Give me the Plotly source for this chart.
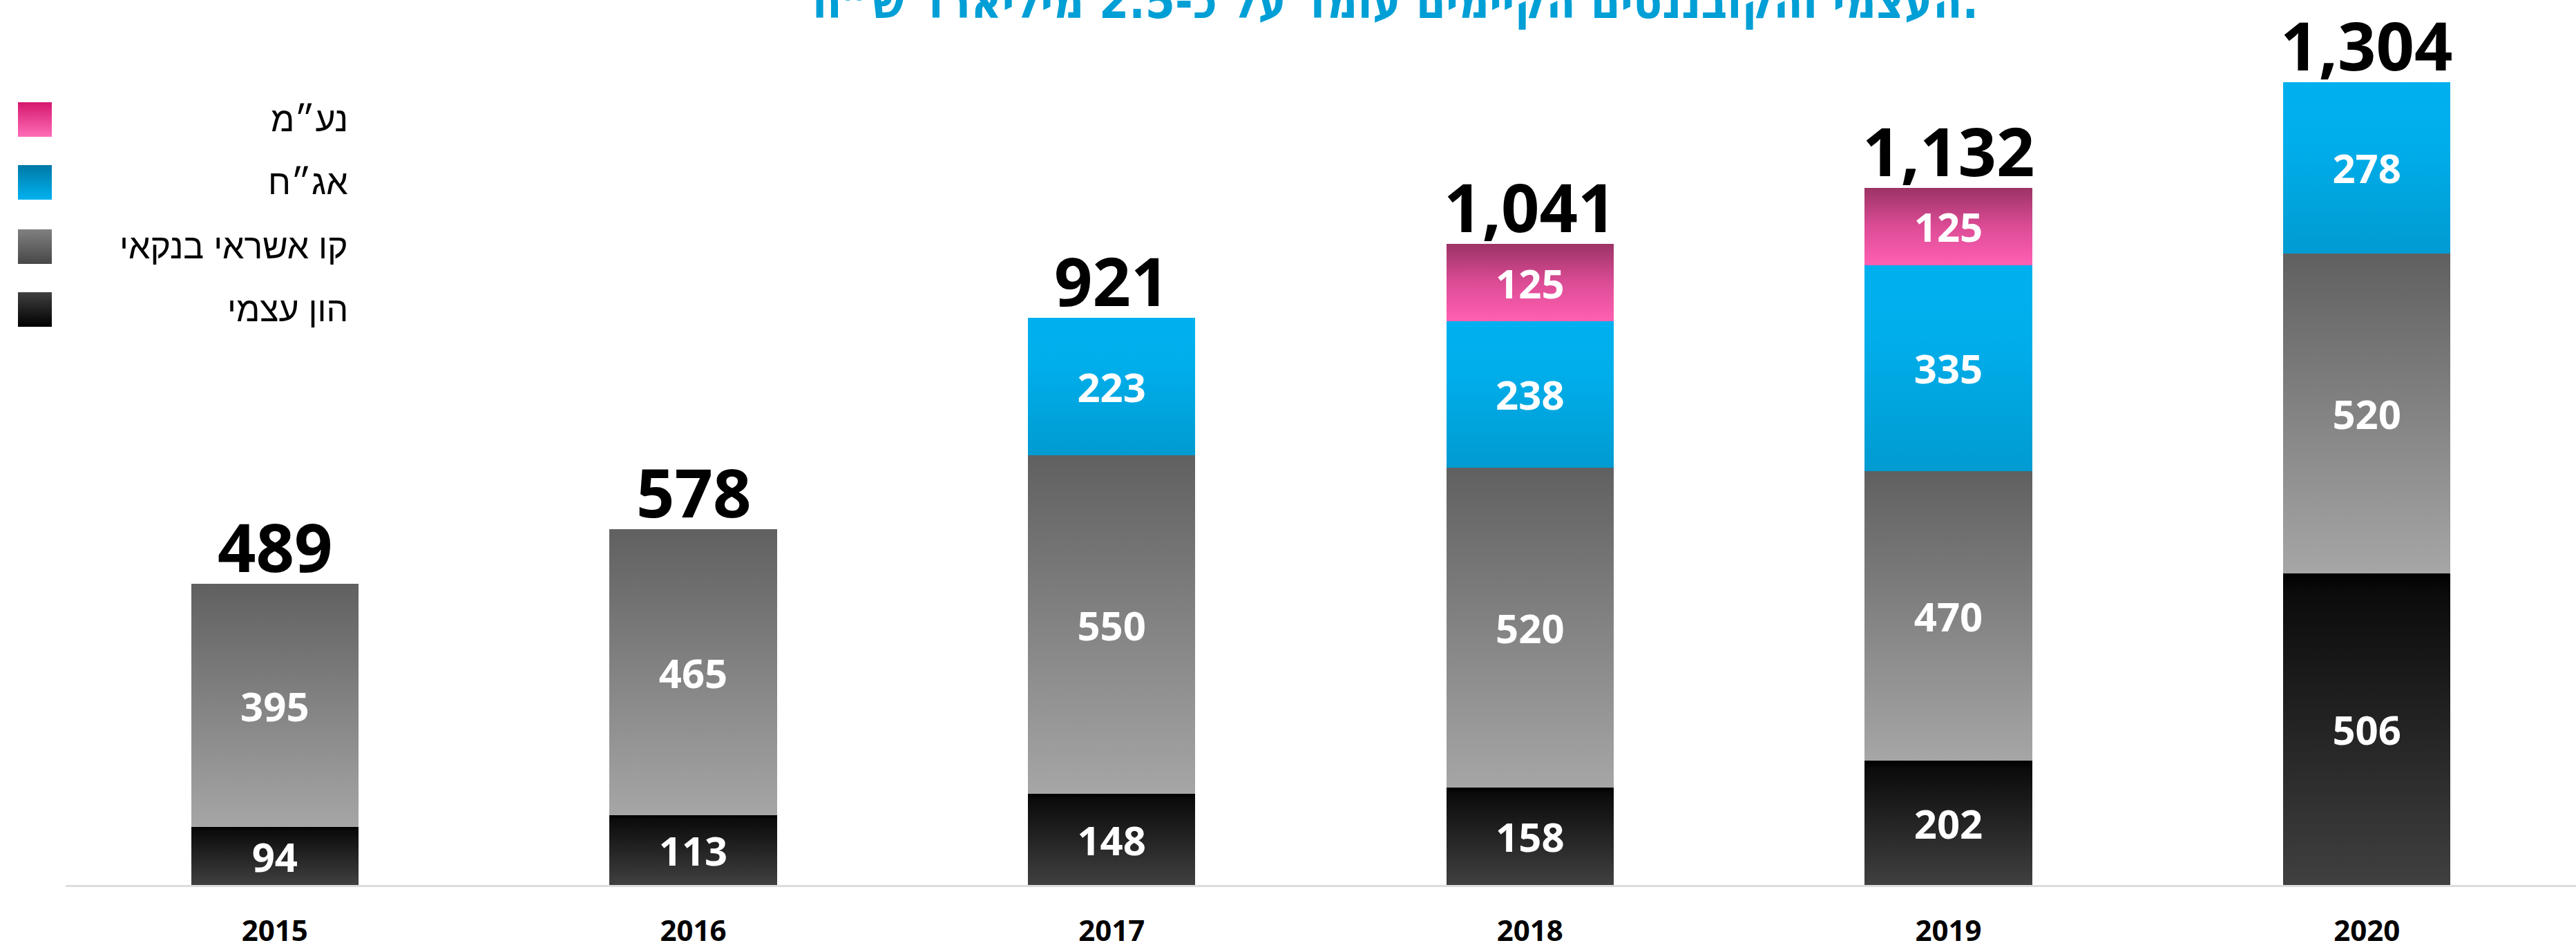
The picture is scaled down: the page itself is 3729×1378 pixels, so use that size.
import plotly.graph_objects as go

# ---- data ----
years = ["2015", "2016", "2017", "2018", "2019", "2020"]
equity = [94, 113, 148, 158, 202, 506]          # הון עצמי
credit = [395, 465, 550, 520, 470, 520]         # קו אשראי בנקאי
bonds = [None, None, 223, 238, 335, 278]        # אג"ח
notes = [None, None, None, 125, 125, None]      # נע"מ
totals = [489, 578, 921, 1041, 1132, 1304]

series_names = ["הון עצמי", "קו אשראי בנקאי", "אג״ח", "נע״מ"]
title_text = "העצמי והקובננטים הקיימים עומד על כ-2.5 מיליארד ש״ח."

# ---- styling ----
W, H = 3729, 1378
ML, MR, MT, MB = 95, 0, 40, 97
bar_colors = ["#262626", "#858585", "#00A8E4", "#D9498F"]
legend_colors = ["#222222", "#666666", "#0096CC", "#EC4C96"]
num_font = "Open Sans"

fig = go.Figure()
for vals, name, col in zip([equity, credit, bonds, notes], series_names, bar_colors):
    fig.add_trace(go.Bar(
        x=years, y=vals, name=name,
        marker=dict(color=col, line=dict(width=0)),
        width=0.4,
        texttemplate="%{y}", textposition="inside", insidetextanchor="middle",
        textangle=0, constraintext="none",
        textfont=dict(family=num_font, size=58, color="white", weight="bold"),
        showlegend=False, hoverinfo="skip",
    ))

# totals above each bar (category index positions on the x axis)
for i, tot in enumerate(totals):
    fig.add_annotation(
        x=i, y=tot, xref="x", yref="y", text=f"{tot:,}",
        xanchor="center", yanchor="bottom", yshift=-13, showarrow=False,
        font=dict(family=num_font, size=97, color="black", weight="bold"),
    )

plot_h = H - MT - MB
px_per_unit = 1162 / 1304
ymax = plot_h / px_per_unit

fig.update_layout(
    width=W, height=H,
    margin=dict(l=ML, r=MR, t=MT, b=MB, pad=0, autoexpand=False),
    barmode="stack", bargap=0.6,
    plot_bgcolor="white", paper_bgcolor="white",
    xaxis=dict(type="category", range=[-0.5, 5.5], showgrid=False, zeroline=False,
               automargin=False, showline=True, linecolor="#DDDDDD", linewidth=3,
               ticks="", ticklabelstandoff=28,
               tickfont=dict(family=num_font, size=42, color="black", weight="bold")),
    yaxis=dict(range=[0, ymax], visible=False, automargin=False),
)

# title (partially cut at top, like the reference)
fig.add_annotation(
    text=title_text, xref="paper", yref="paper",
    x=(2866 - ML) / (W - ML - MR), y=1, xanchor="right", yanchor="bottom",
    yshift=-5, showarrow=False,
    font=dict(family="DejaVu Sans Condensed", size=69, color="#009FD6", weight="bold"),
)

# custom legend (right-aligned Hebrew labels, swatch on the left)
def pxx(p):
    return (p - ML) / (W - ML - MR)

def pxy(p):
    return (H - MB - p) / plot_h

legend_rows = [(3, 173), (2, 264), (1, 357), (0, 448)]
for idx, cy in legend_rows:
    fig.add_shape(type="rect", xref="paper", yref="paper",
                  x0=pxx(26), x1=pxx(75), y0=pxy(cy + 25), y1=pxy(cy - 25),
                  fillcolor=legend_colors[idx], line=dict(width=0))
    fig.add_annotation(text=series_names[idx], xref="paper", yref="paper",
                       x=pxx(506), y=pxy(cy), xanchor="right", yanchor="middle",
                       showarrow=False,
                       font=dict(family="Liberation Sans", size=50, color="black"))

# page margin reset + vertical gradient styling of bars and legend swatches
post = """
document.body.style.margin = '0';
document.body.style.padding = '0';
var gd = document.getElementById('{plot_id}');
function applyGrad() {
  var svg = gd.querySelector('svg.main-svg');
  if (!svg) return;
  var ns = 'http://www.w3.org/2000/svg';
  var defs = svg.querySelector('defs');
  if (!defs) { defs = document.createElementNS(ns, 'defs'); svg.insertBefore(defs, svg.firstChild); }
  var grads = {
    'b0': [[0, '#000000'], [0.06, '#0b0b0b'], [1, '#404040']],
    'b1': [[0, '#606060'], [1, '#A6A6A6']],
    'b2': [[0, '#00B0EE'], [0.35, '#00AEEB'], [1, '#009BD1']],
    'b3': [[0, '#9C3366'], [0.5, '#DC4C96'], [1, '#FF60B2']],
    'l0': [[0, '#404040'], [1, '#000000']],
    'l1': [[0, '#808080'], [1, '#474747']],
    'l2': [[0, '#0079A6'], [1, '#00B2F0']],
    'l3': [[0, '#D5186E'], [1, '#FF6DB8']]
  };
  Object.keys(grads).forEach(function(k) {
    if (svg.querySelector('#grad_' + k)) return;
    var g = document.createElementNS(ns, 'linearGradient');
    g.setAttribute('id', 'grad_' + k);
    g.setAttribute('x1', '0'); g.setAttribute('y1', '0');
    g.setAttribute('x2', '0'); g.setAttribute('y2', '1');
    grads[k].forEach(function(s) {
      var st = document.createElementNS(ns, 'stop');
      st.setAttribute('offset', s[0]);
      st.setAttribute('stop-color', s[1]);
      g.appendChild(st);
    });
    defs.appendChild(g);
  });
  var traces = gd.querySelectorAll('g.trace.bars');
  traces.forEach(function(t, i) {
    t.querySelectorAll('g.point path').forEach(function(p) {
      p.style.fill = 'url(#grad_b' + i + ')';
    });
  });
  var legOrder = [3, 2, 1, 0];
  var shapes = gd.querySelectorAll('.shapelayer path');
  shapes.forEach(function(p, i) {
    if (i < legOrder.length) p.style.fill = 'url(#grad_l' + legOrder[i] + ')';
  });
}
applyGrad();
gd.on('plotly_afterplot', applyGrad);
"""

fig.write_html("out.html", post_script=post, config={"displayModeBar": False})
